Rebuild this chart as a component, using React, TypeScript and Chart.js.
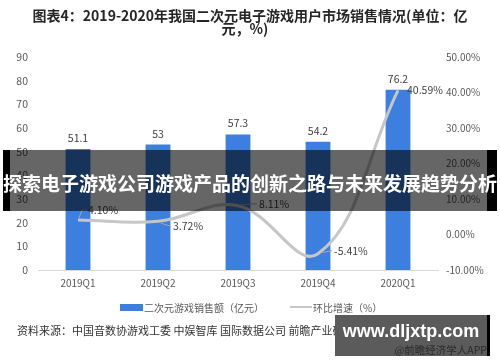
import React, { useEffect, useRef } from "react";
import { Chart, registerables } from "chart.js";

Chart.register(...registerables);

const categories = ["2019Q1", "2019Q2", "2019Q3", "2019Q4", "2020Q1"];
const salesValues = [51.1, 53, 57.3, 54.2, 76.2];
const growthValues = [4.1, 3.72, 8.11, -5.41, 40.59];
const salesLabel = "二次元游戏销售额（亿元）";
const growthLabel = "环比增速（%）";
const titleLine1 = "图表4：2019-2020年我国二次元电子游戏用户市场销售情况(单位：亿";
const titleLine2 = "元，%)";
const bannerText = "探索电子游戏公司游戏产品的创新之路与未来发展趋势分析";
const sourceText = "资料来源：中国音数协游戏工委 中娱智库 国际数据公司 前瞻产业研究院整理";
const siteText = "www.dljxtp.com";
const appText = "@前瞻经济学人APP";

// label offsets (style only): [dx, dy] from point to label left-middle
const growthLabelOffsets = [
  [10, -10],
  [15, 5],
  [21, -2],
  [16, -3],
  [9, 0],
];

const FONT = '"Noto Sans CJK SC", "Noto Sans", sans-serif';
const BAR_COLOR = "#3d7fdf";
const LINE_COLOR = "#c6c6c6";

const labelPlugin = {
  id: "valueLabels",
  afterDatasetsDraw(chart: any) {
    const ctx = chart.ctx;
    ctx.save();
    ctx.font = `10.5px ${FONT}`;
    ctx.fillStyle = "#404040";
    const barMeta = chart.getDatasetMeta(0);
    ctx.textAlign = "center";
    ctx.textBaseline = "middle";
    barMeta.data.forEach((el: any, i: number) => {
      ctx.fillText(String(salesValues[i]), el.x, el.y - 11);
    });
    const lineMeta = chart.getDatasetMeta(1);
    ctx.textAlign = "left";
    lineMeta.data.forEach((el: any, i: number) => {
      const [dx, dy] = growthLabelOffsets[i];
      const lx = el.x + dx;
      const ly = el.y + dy;
      if (dx > 10) {
        ctx.strokeStyle = "#a6a6a6";
        ctx.lineWidth = 1;
        ctx.beginPath();
        ctx.moveTo(el.x + 3, el.y + (dy > 0 ? 2 : dy < 0 ? -1 : 0));
        ctx.lineTo(lx - 2, ly);
        ctx.stroke();
      } else if (i === 0) {
        ctx.strokeStyle = "#a6a6a6";
        ctx.lineWidth = 1;
        ctx.beginPath();
        ctx.moveTo(el.x + 1, el.y - 2);
        ctx.lineTo(el.x + 4, ly);
        ctx.lineTo(lx - 1, ly);
        ctx.stroke();
      }
      ctx.fillStyle = "#404040";
      ctx.fillText(growthValues[i].toFixed(2) + "%", lx, ly);
    });
    ctx.restore();
  },
};

export default function App() {
  const canvasRef = useRef<HTMLCanvasElement | null>(null);

  useEffect(() => {
    document.body.style.margin = "0";
    const canvas = canvasRef.current;
    if (!canvas) return;
    const chart = new Chart(canvas, {
      type: "bar",
      data: {
        labels: categories,
        datasets: [
          {
            type: "bar",
            label: salesLabel,
            data: salesValues,
            backgroundColor: BAR_COLOR,
            borderWidth: 0,
            yAxisID: "y",
            barPercentage: 0.31,
            categoryPercentage: 1,
            order: 2,
          } as any,
          {
            type: "line",
            label: growthLabel,
            data: growthValues,
            borderColor: LINE_COLOR,
            borderWidth: 3,
            pointRadius: 0,
            tension: 0.4,
            fill: false,
            yAxisID: "y1",
            order: 1,
          } as any,
        ],
      },
      options: {
        responsive: false,
        animation: false,
        devicePixelRatio: 1,
        layout: { padding: { left: 0, right: 0, top: 57, bottom: 72 } },
        plugins: {
          legend: { display: false },
          tooltip: { enabled: false },
          title: { display: false },
        },
        scales: {
          x: {
            grid: { display: false, drawTicks: false },
            border: { display: true, color: "#d9d9d9", width: 1 },
            ticks: {
              color: "#595959",
              font: { family: FONT, size: 10 },
              padding: 7,
            },
            afterFit: (s: any) => {
              s.height = 20;
            },
          },
          y: {
            position: "left",
            min: 0,
            max: 90,
            grid: { display: false, drawTicks: false },
            border: { display: false },
            ticks: {
              stepSize: 10,
              color: "#595959",
              font: { family: FONT, size: 10.5 },
              padding: 10,
            },
            afterFit: (s: any) => {
              s.width = 38;
            },
          },
          y1: {
            position: "right",
            min: -10,
            max: 50,
            grid: { display: false, drawTicks: false },
            border: { display: false },
            ticks: {
              stepSize: 10,
              color: "#595959",
              font: { family: FONT, size: 10 },
              padding: 8,
              callback: (v: any) => Number(v).toFixed(2) + "%",
            },
            afterFit: (s: any) => {
              s.width = 62;
            },
          },
        },
      } as any,
      plugins: [labelPlugin],
    });
    return () => chart.destroy();
  }, []);

  return (
    <div
      style={{
        position: "absolute",
        left: 0,
        top: 0,
        width: 500,
        height: 362,
        background: "#fff",
        overflow: "hidden",
        fontFamily: FONT,
      }}
    >
      <canvas
        ref={canvasRef}
        width={500}
        height={362}
        style={{ position: "absolute", left: 0, top: 0, width: 500, height: 362 }}
      />
      <div
        style={{
          position: "absolute",
          left: 0,
          top: 9,
          width: 500,
          textAlign: "center",
          fontWeight: "bold",
          fontSize: 14,
          lineHeight: "13px",
          color: "#262626",
          whiteSpace: "nowrap",
        }}
      >
        <div>{titleLine1}</div>
        <div style={{ marginLeft: -10 }}>{titleLine2}</div>
      </div>
      <div
        style={{
          position: "absolute",
          left: 3,
          top: 150,
          width: 494,
          height: 61,
          background: "rgba(0,0,0,0.6)",
        }}
      />
      <div style={{ position: "absolute", left: 3, top: 150, width: 7, height: 61, background: "#000" }} />
      <div style={{ position: "absolute", left: 487, top: 150, width: 10, height: 61, background: "#000" }} />
      <div
        style={{
          position: "absolute",
          left: 0,
          top: 171,
          width: 500,
          textAlign: "center",
          color: "#fff",
          fontWeight: "bold",
          fontSize: 19,
          lineHeight: "24px",
          whiteSpace: "nowrap",
        }}
      >
        {bannerText}
      </div>
      <div
        style={{
          position: "absolute",
          left: 120,
          top: 300,
          height: 14,
          display: "flex",
          alignItems: "center",
          fontSize: 10,
          color: "#595959",
          whiteSpace: "nowrap",
        }}
      >
        <span style={{ display: "inline-block", width: 23, height: 7, background: BAR_COLOR, marginRight: 1 }} />
        <span>{salesLabel}</span>
        <span
          style={{
            display: "inline-block",
            width: 22,
            height: 2,
            background: LINE_COLOR,
            marginLeft: 26,
            marginRight: 1,
          }}
        />
        <span>{growthLabel}</span>
      </div>
      <div
        style={{
          position: "absolute",
          left: 17,
          top: 322,
          fontSize: 11,
          lineHeight: "16px",
          color: "#333",
          whiteSpace: "nowrap",
        }}
      >
        {sourceText}
      </div>
      <div
        style={{
          position: "absolute",
          left: 335,
          top: 315,
          width: 152,
          height: 41,
          background: "#5b5b5b",
        }}
      />
      <div style={{ position: "absolute", left: 487, top: 315, width: 3, height: 41, background: "#000" }} />
      <div
        style={{
          position: "absolute",
          left: 335,
          top: 320,
          width: 152,
          textAlign: "center",
          color: "#fff",
          fontWeight: "bold",
          fontSize: 18,
          lineHeight: "22px",
          fontFamily: '"Liberation Sans", Arial, sans-serif',
          whiteSpace: "nowrap",
        }}
      >
        {siteText}
      </div>
      <div
        style={{
          position: "absolute",
          left: 335,
          top: 343,
          width: 152,
          textAlign: "right",
          color: "#2a2a2a",
          fontSize: 10.5,
          lineHeight: "13px",
          whiteSpace: "nowrap",
        }}
      >
        {appText}
      </div>
    </div>
  );
}
